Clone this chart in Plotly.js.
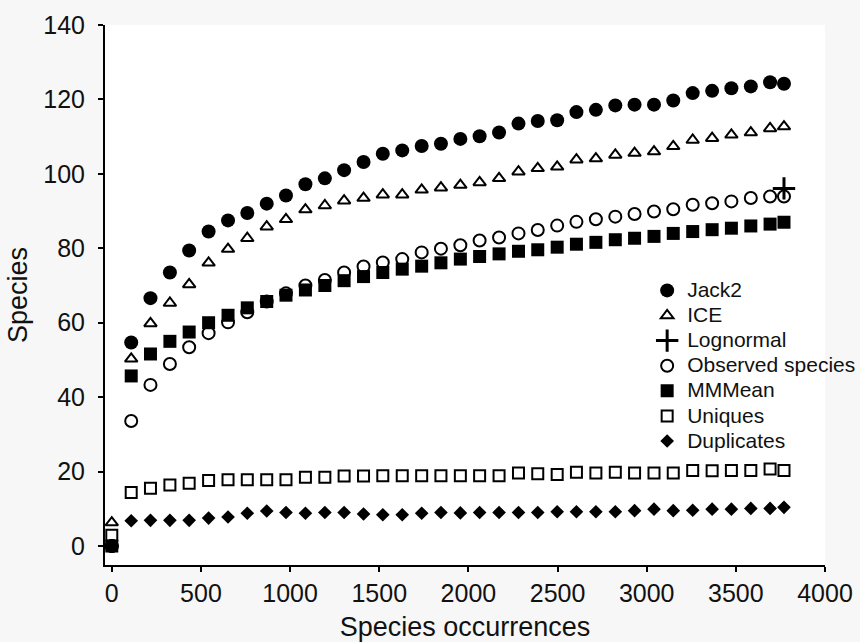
<!DOCTYPE html>
<html>
<head>
<meta charset="utf-8">
<script src="https://cdn.plot.ly/plotly-3.0.1.min.js"></script>
<style>html,body{margin:0;padding:0;background:#f7f7f7;}#chart{width:860px;height:642px;}</style>
</head>
<body>
<div id="chart"></div>
<script>
// Sample sizes (species occurrences)
const occurrences = [0,109,217,326,434,543,652,760,869,977,1086,1195,1303,1412,1520,1629,1738,1846,1955,2063,2172,2281,2389,2498,2606,2715,2824,2932,3041,3149,3258,3367,3475,3584,3692,3770];

const jack2 = [0,54.7,66.6,73.5,79.4,84.5,87.5,89.5,92.0,94.2,97.2,98.8,101.0,103.2,105.4,106.3,107.5,108.1,109.4,110.1,111.1,113.5,114.2,114.4,116.6,117.2,118.4,118.6,118.6,119.7,121.7,122.3,123.0,123.5,124.6,124.2];
const ice = [6.3,50.3,59.8,65.3,70.3,76.1,79.8,82.7,85.8,87.8,90.4,91.5,92.8,93.5,94.4,94.4,95.7,96.3,97.0,97.7,98.8,100.6,101.5,101.9,103.8,104.1,105.1,105.6,106.0,107.4,109.1,109.6,110.5,111.1,112.2,112.7];
const lognormalX = [3770];
const lognormalY = [96.1];
const observed = [0,33.6,43.3,48.9,53.4,57.2,60.1,62.8,65.7,67.9,70.0,71.5,73.5,75.1,76.2,77.1,78.9,79.9,80.8,82.1,82.9,84.0,84.9,86.1,87.1,87.8,88.5,89.2,89.9,90.5,91.7,92.1,92.6,93.5,93.9,93.9];
const mmmean = [0,45.7,51.6,55.0,57.5,60.0,62.0,64.0,65.7,67.4,68.8,70.0,71.3,72.4,73.5,74.4,75.2,76.1,77.1,77.8,78.5,79.2,79.6,80.3,81.1,81.6,82.3,82.7,83.2,84.0,84.5,85.0,85.4,86.0,86.5,87.0];
const uniques = [2.9,14.4,15.5,16.4,16.9,17.6,17.8,17.8,17.8,17.8,18.5,18.5,18.8,18.8,18.9,18.9,18.9,18.9,18.9,18.9,18.9,19.6,19.4,19.2,19.8,19.6,19.8,19.6,19.6,19.6,20.3,20.2,20.3,20.3,20.7,20.3];
const duplicates = [0,6.8,6.9,6.9,6.9,7.5,7.8,8.8,9.4,9.0,8.8,9.0,9.0,8.6,8.4,8.4,8.8,9.0,8.9,9.0,9.0,9.0,9.0,9.2,9.2,9.2,9.2,9.5,9.9,9.5,9.6,9.9,9.9,10.1,10.1,10.4];

const seriesNames = ["Jack2","ICE","Lognormal","Observed species","MMMean","Uniques","Duplicates"];
const xTitle = "Species occurrences";
const yTitle = "Species";

const FONT = "Liberation Sans, Arial, sans-serif";
const ink = "#000000";

function pts(name, x, y, marker){
  return {type:"scatter", mode:"markers",
          name:'<span style="font-size:21px">' + name + '</span>',
          x:x, y:y, marker:marker, cliponaxis:false};
}

const traces = [
  pts(seriesNames[0], occurrences, jack2, {symbol:"circle", size:14, color:ink, line:{width:0}}),
  pts(seriesNames[1], occurrences, ice, {symbol:"triangle-up-open", size:11, color:ink, line:{width:2, color:ink}}),
  pts(seriesNames[2], lognormalX, lognormalY, {symbol:"cross-thin-open", size:16, color:ink, line:{width:3, color:ink}}),
  pts(seriesNames[3], occurrences, observed, {symbol:"circle-open", size:12, color:ink, line:{width:2, color:ink}}),
  pts(seriesNames[4], occurrences, mmmean, {symbol:"square", size:13, color:ink, line:{width:0}}),
  pts(seriesNames[5], occurrences, uniques, {symbol:"square-open", size:11, color:ink, line:{width:2, color:ink}}),
  pts(seriesNames[6], occurrences, duplicates, {symbol:"diamond", size:10.5, color:ink, line:{width:0}})
];

const layout = {
  width:860, height:642,
  paper_bgcolor:"#f7f7f7",
  plot_bgcolor:"#ffffff",
  margin:{l:105, r:35, t:25, b:77, autoexpand:false},
  font:{family:FONT, color:"#111111"},
  showlegend:true,
  legend:{x:0.753, xanchor:"left", y:0.541, yanchor:"top", bgcolor:"rgba(0,0,0,0)", borderwidth:0,
          font:{family:FONT, size:17, color:"#111111"}},
  xaxis:{range:[-38,4000], dtick:500, tick0:0, showline:true, linecolor:ink, linewidth:2,
         ticks:"outside", ticklen:5, tickwidth:2, tickcolor:ink, showgrid:false, zeroline:false,
         automargin:false,
         tickfont:{family:FONT, size:25, color:"#111111"},
         title:{text:xTitle, font:{family:FONT, size:27, color:"#111111"}, standoff:12}},
  yaxis:{range:[-5.1,140], dtick:20, tick0:0, showline:true, linecolor:ink, linewidth:2,
         ticks:"outside", ticklen:5, tickwidth:2, tickcolor:ink, showgrid:false, zeroline:false,
         automargin:false, ticklabelstandoff:8,
         tickfont:{family:FONT, size:25, color:"#111111"},
         title:{text:yTitle, font:{family:FONT, size:27, color:"#111111"}, standoff:8}}
};

Plotly.newPlot("chart", traces, layout, {displayModeBar:false, staticPlot:true});
</script>
</body>
</html>
